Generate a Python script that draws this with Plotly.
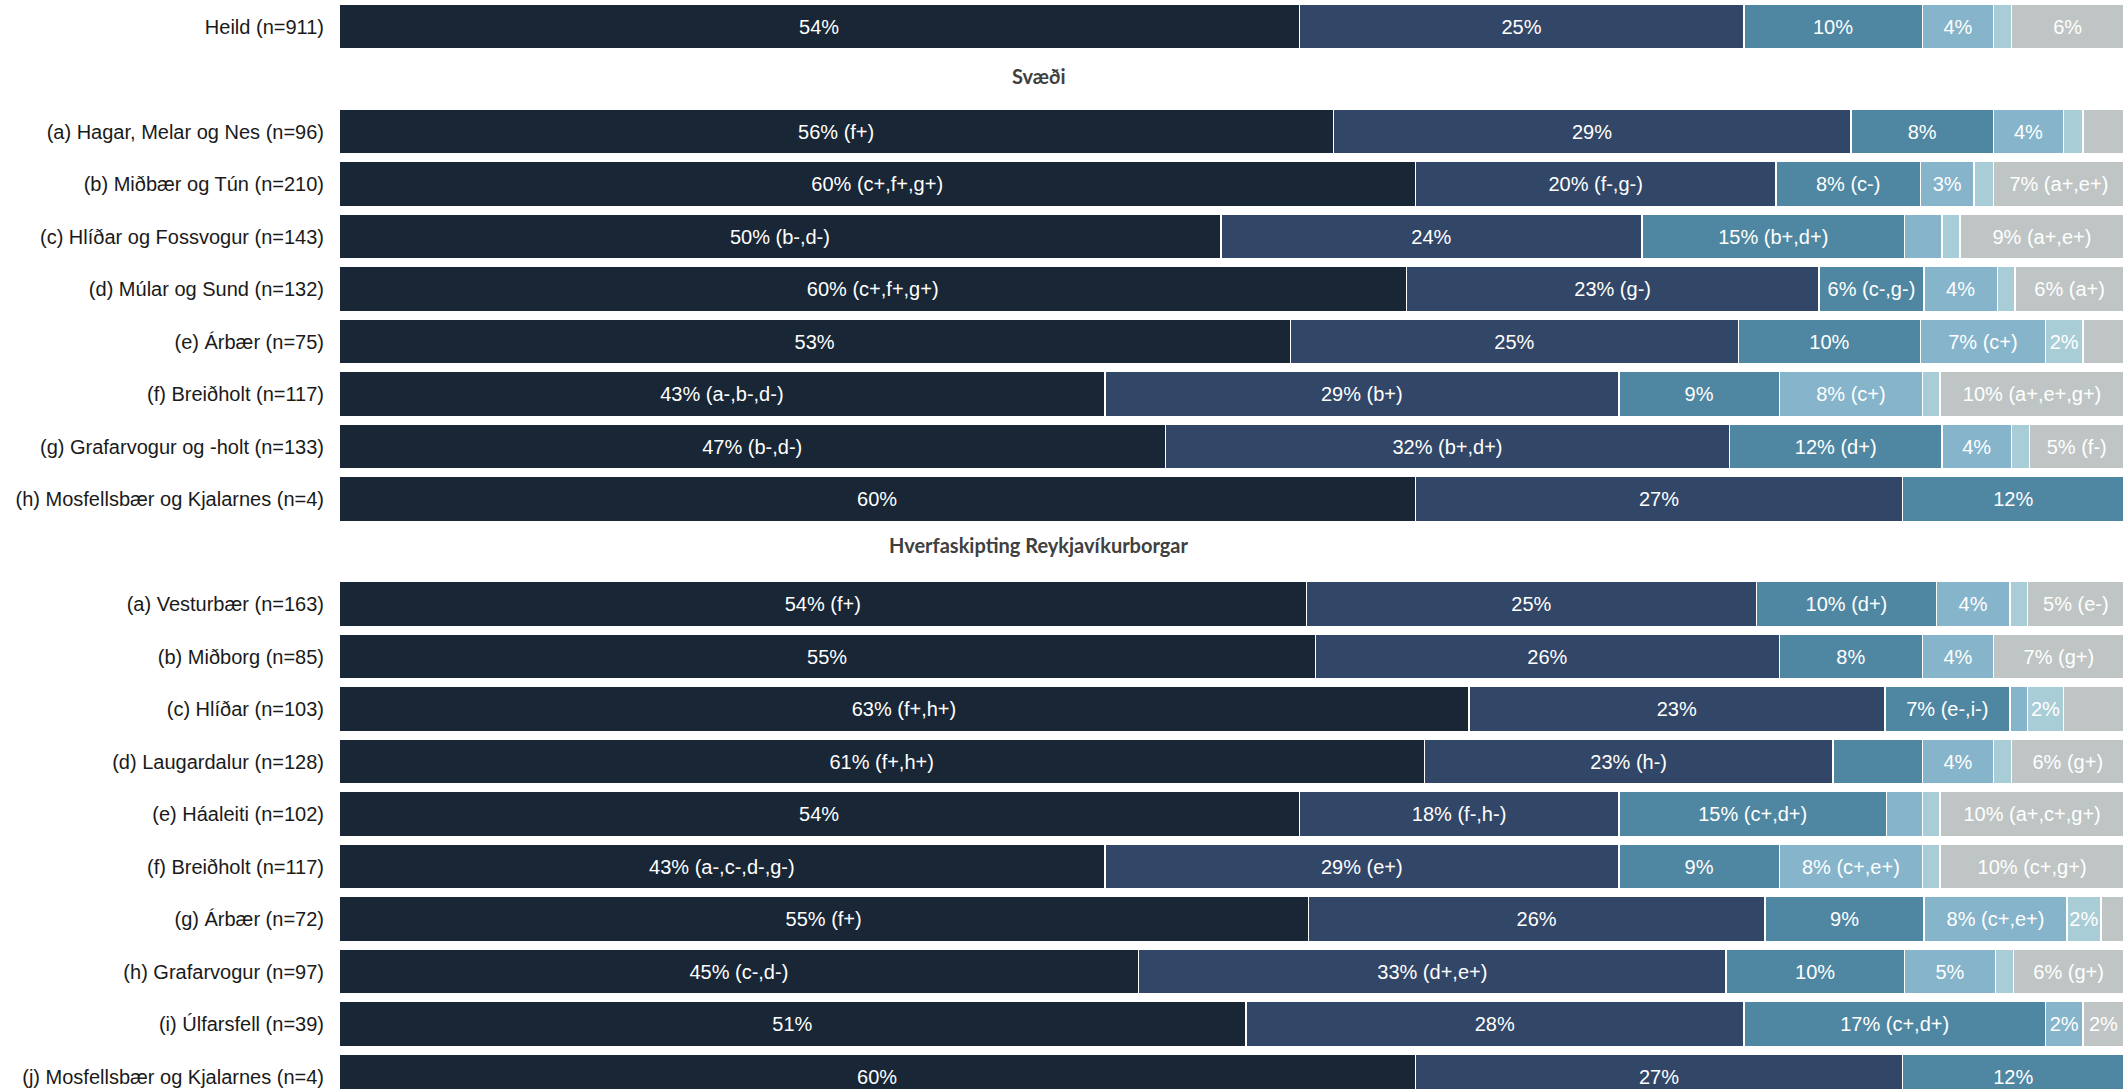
import plotly.graph_objects as go

# Row labels (top to bottom), excluding section headings
rows = [
    "Heild (n=911)",
    "(a) Hagar, Melar og Nes (n=96)",
    "(b) Miðbær og Tún (n=210)",
    "(c) Hlíðar og Fossvogur (n=143)",
    "(d) Múlar og Sund (n=132)",
    "(e) Árbær (n=75)",
    "(f) Breiðholt (n=117)",
    "(g) Grafarvogur og -holt (n=133)",
    "(h) Mosfellsbær og Kjalarnes (n=4)",
    "(a) Vesturbær (n=163)",
    "(b) Miðborg (n=85)",
    "(c) Hlíðar (n=103)",
    "(d) Laugardalur (n=128)",
    "(e) Háaleiti (n=102)",
    "(f) Breiðholt (n=117)",
    "(g) Árbær (n=72)",
    "(h) Grafarvogur (n=97)",
    "(i) Úlfarsfell (n=39)",
    "(j) Mosfellsbær og Kjalarnes (n=4)",
]

section_titles = ["Svæði", "Hverfaskipting Reykjavíkurborgar"]
section_start = [1, 9]  # index into rows where each section begins
section_shift = [3, 7]  # small vertical nudge (px) for the heading text

# Series values (percent), one entry per row
s1 = [53.8, 55.7, 60.3, 49.4, 59.8, 53.3, 42.9, 46.3, 60.3,
      54.2, 54.7, 63.3, 60.8, 53.8, 42.9, 54.3, 44.8, 50.8, 60.3]
s2 = [24.9, 29.0, 20.2, 23.6, 23.1, 25.1, 28.8, 31.6, 27.3,
      25.2, 26.0, 23.3, 22.9, 17.9, 28.8, 25.6, 32.9, 27.9, 27.3]
s3 = [10.0, 8.0, 8.1, 14.7, 5.9, 10.2, 9.0, 11.9, 12.4,
      10.1, 8.0, 7.0, 5.0, 15.0, 9.0, 8.9, 10.0, 16.9, 12.4]
s4 = [4.0, 3.9, 3.0, 2.1, 4.1, 7.0, 8.0, 3.9, 0.0,
      4.1, 4.0, 1.0, 4.0, 2.0, 8.0, 8.0, 5.1, 2.1, 0.0]
s5 = [1.0, 1.1, 1.1, 1.0, 1.0, 2.1, 1.0, 1.0, 0.0,
      1.0, 0.0, 2.0, 1.0, 1.0, 1.0, 1.9, 1.0, 0.0, 0.0]
s6 = [6.3, 2.3, 7.3, 9.2, 6.1, 2.3, 10.3, 5.3, 0.0,
      5.4, 7.3, 3.4, 6.3, 10.3, 10.3, 1.3, 6.2, 2.3, 0.0]

# Segment labels
t1 = ["54%", "56% (f+)", "60% (c+,f+,g+)", "50% (b-,d-)", "60% (c+,f+,g+)", "53%",
      "43% (a-,b-,d-)", "47% (b-,d-)", "60%",
      "54% (f+)", "55%", "63% (f+,h+)", "61% (f+,h+)", "54%", "43% (a-,c-,d-,g-)",
      "55% (f+)", "45% (c-,d-)", "51%", "60%"]
t2 = ["25%", "29%", "20% (f-,g-)", "24%", "23% (g-)", "25%", "29% (b+)", "32% (b+,d+)", "27%",
      "25%", "26%", "23%", "23% (h-)", "18% (f-,h-)", "29% (e+)", "26%", "33% (d+,e+)", "28%", "27%"]
t3 = ["10%", "8%", "8% (c-)", "15% (b+,d+)", "6% (c-,g-)", "10%", "9%", "12% (d+)", "12%",
      "10% (d+)", "8%", "7% (e-,i-)", "", "15% (c+,d+)", "9%", "9%", "10%", "17% (c+,d+)", "12%"]
t4 = ["4%", "4%", "3%", "", "4%", "7% (c+)", "8% (c+)", "4%", "",
      "4%", "4%", "", "4%", "", "8% (c+,e+)", "8% (c+,e+)", "5%", "2%", ""]
t5 = ["", "", "", "", "", "2%", "", "", "",
      "", "", "2%", "", "", "", "2%", "", "", ""]
t6 = ["6%", "", "7% (a+,e+)", "9% (a+,e+)", "6% (a+)", "", "10% (a+,e+,g+)", "5% (f-)", "",
      "5% (e-)", "7% (g+)", "", "6% (g+)", "10% (a+,c+,g+)", "10% (c+,g+)", "", "6% (g+)", "2%", ""]

colors = ["#182636", "#324667", "#4f87a2", "#85b4cb", "#a9cdd7", "#bec5c4"]
series = [s1, s2, s3, s4, s5, s6]
texts = [t1, t2, t3, t4, t5, t6]

# Compute row positions (headings take their own slot)
ypos = []
heading_pos = []
p = 0
for i, r in enumerate(rows):
    if i in section_start:
        heading_pos.append(p)
        p += 1
    ypos.append(p)
    p += 1

fig = go.Figure()
for vals, txt, col in zip(series, texts, colors):
    fig.add_trace(go.Bar(
        x=vals, y=ypos, orientation="h",
        marker=dict(color=col, line=dict(color="white", width=1.5)),
        text=txt, textposition="inside", insidetextanchor="middle",
        textangle=0, constraintext="none",
        textfont=dict(color="white", size=20, family="Liberation Sans, Arial, sans-serif"),
        hoverinfo="skip", showlegend=False,
    ))

for title, hp, sh in zip(section_titles, heading_pos, section_shift):
    fig.add_annotation(
        text=f"<b>{title}</b>", x=0.392, xref="paper", y=hp, yref="y",
        yshift=sh, showarrow=False, xanchor="center", yanchor="middle",
        font=dict(family="Lato, Open Sans, sans-serif", size=20, color="#404040"),
    )

fig.update_layout(
    width=2124, height=1089,
    margin=dict(l=339, r=0, t=0, b=0),
    barmode="stack", bargap=0.143,
    plot_bgcolor="white", paper_bgcolor="white",
    uniformtext=dict(minsize=20, mode="show"),
    font=dict(family="Liberation Sans, Arial, sans-serif", size=20, color="#1a1a1a"),
)
fig.update_xaxes(range=[0, 100], visible=False, fixedrange=True)
fig.update_yaxes(
    tickvals=ypos, ticktext=rows, range=[20.238, -0.505],
    showgrid=False, zeroline=False, showline=False, ticks="",
    ticklabelstandoff=14, tickfont=dict(size=20, color="#1a1a1a"),
)

fig.write_html("out.html", config={"displayModeBar": False},
               post_script="document.body.style.margin='0px';")
